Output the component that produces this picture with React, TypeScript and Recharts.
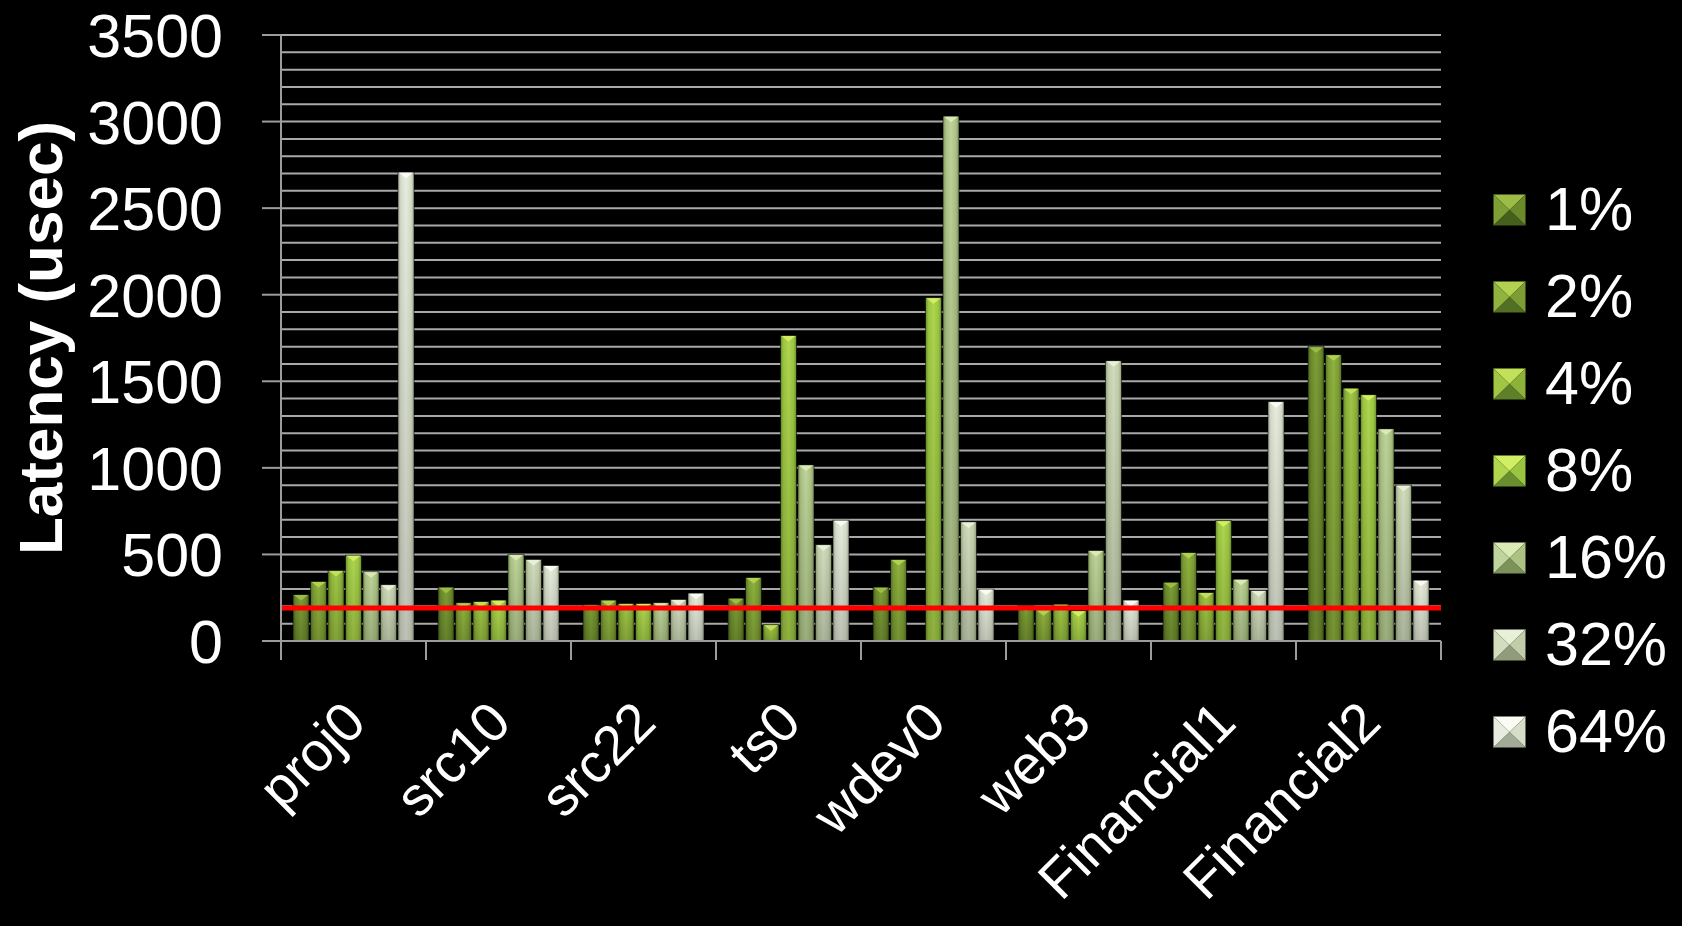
import { BarChart, Bar, XAxis, YAxis, CartesianGrid, ReferenceLine, Legend } from "recharts"

const categories = ["proj0", "src10", "src22", "ts0", "wdev0", "web3", "Financial1", "Financial2"]
const seriesNames = ["1%", "2%", "4%", "8%", "16%", "32%", "64%"]

// latency (usec) per trace, one array per cache size
const lat1 = [268, 311, 210, 247, 311, 205, 339, 1700]
const lat2 = [344, 221, 236, 367, 471, 181, 511, 1653]
const lat4 = [407, 228, 217, 94, 0, 212, 280, 1460]
const lat8 = [495, 236, 217, 1764, 1983, 174, 695, 1422]
const lat16 = [400, 499, 221, 1017, 3031, 523, 356, 1225]
const lat32 = [325, 471, 240, 556, 688, 1618, 292, 900]
const lat64 = [2708, 436, 276, 697, 299, 236, 1382, 351]

const yMajorTicks = [0, 500, 1000, 1500, 2000, 2500, 3000, 3500]
const gridStep = 100
const threshold = 190

const seriesValues = [lat1, lat2, lat4, lat8, lat16, lat32, lat64]
const data = categories.map((name, i) => {
  const row: Record<string, any> = { name }
  seriesNames.forEach((s, j) => {
    row[s] = seriesValues[j][i]
  })
  return row
})
const gridTicks = Array.from({ length: yMajorTicks[yMajorTicks.length - 1] / gridStep + 1 }, (_, i) => i * gridStep)

const font = "'Liberation Sans', Arial, Helvetica, sans-serif"
const axisColor = "#9c9c9c"
const gridColor = "#a9a9a9"

const edgeColors = ["#45601c", "#536f24", "#607f29", "#6a8e2d", "#7c9258", "#909c7c", "#a3ab96"]
const midColors = ["#6b8a2c", "#7c9d34", "#8cb23a", "#9ac542", "#abc283", "#c0cda8", "#d6ddc9"]
const hiColors = ["#7e9e36", "#90b23e", "#a1c646", "#afd64e", "#bfd49c", "#d2dcbf", "#e8ecdf"]
const capColors = ["#9cbc46", "#b2d150", "#c3e05a", "#d2ee62", "#dbe9b6", "#e9f0d8", "#fafcf4"]

function BevelBar(props: any) {
  const { x, y, width, height, s } = props
  if (!height || height <= 0) return <g />
  const cap = Math.min(6, height)
  return (
    <g>
      <rect x={x} y={y} width={width} height={height} fill={`url(#barGrad${s})`} />
      <rect x={x} y={y} width={width} height={height} fill="url(#barShade)" stroke="rgba(0,0,0,0.55)" strokeWidth={1} />
      <polygon points={`${x + 1},${y + 0.5} ${x + width - 1},${y + 0.5} ${x + width / 2},${y + cap}`} fill={capColors[s]} />
    </g>
  )
}

function YTick(props: any) {
  const { x, y, payload } = props
  if (payload.value % 500 !== 0) return <g />
  return (
    <g>
      <line x1={x - 19} x2={x} y1={y} y2={y} stroke={axisColor} strokeWidth={2} />
      <text x={x - 58} y={y} dy="0.36em" textAnchor="end" fill="#ffffff" fontSize={61} fontFamily={font}>
        {payload.value}
      </text>
    </g>
  )
}

function XTick(props: any) {
  const { x, y, payload, index, width, visibleTicksCount } = props
  const half = payload.offset ?? (width && visibleTicksCount ? width / visibleTicksCount / 2 : 72.5)
  const last = index === categories.length - 1
  const ax = x + 15
  const ay = y + 84
  return (
    <g>
      <line x1={x - half} x2={x - half} y1={y} y2={y + 19} stroke={axisColor} strokeWidth={2} />
      {last && <line x1={x + half} x2={x + half} y1={y} y2={y + 19} stroke={axisColor} strokeWidth={2} />}
      <text
        x={ax}
        y={ay}
        transform={`rotate(-45, ${ax}, ${ay})`}
        textAnchor="end"
        fill="#ffffff"
        fontSize={55}
        fontFamily={font}
      >
        {payload.value}
      </text>
    </g>
  )
}

function LegendSquare({ s }: { s: number }) {
  return (
    <svg width={33} height={32} style={{ display: "block" }}>
      <polygon points="0,0 33,0 16.5,16" fill={capColors[s]} />
      <polygon points="0,0 0,32 16.5,16" fill={hiColors[s]} />
      <polygon points="33,0 33,32 16.5,16" fill={midColors[s]} />
      <polygon points="0,32 33,32 16.5,16" fill={edgeColors[s]} />
      <rect x={0.5} y={0.5} width={32} height={31} fill="none" stroke="rgba(0,0,0,0.5)" />
    </svg>
  )
}

function renderLegend() {
  return (
    <div style={{ display: "flex", flexDirection: "column" }}>
      {seriesNames.map((n, i) => (
        <div key={n} style={{ height: 87, display: "flex", alignItems: "center" }}>
          <LegendSquare s={i} />
          <span style={{ marginLeft: 19, color: "#ffffff", fontSize: 61, fontFamily: font, lineHeight: 1 }}>{n}</span>
        </div>
      ))}
    </div>
  )
}

export default function App() {
  return (
    <div style={{ position: "fixed", left: 0, top: 0, width: 1682, height: 926, background: "#000000" }}>
      <svg width={0} height={0} style={{ position: "absolute" }}>
        <defs>
          {seriesNames.map((n, i) => (
            <linearGradient key={n} id={`barGrad${i}`} x1="0" y1="0" x2="1" y2="0">
              <stop offset="0%" stopColor={edgeColors[i]} />
              <stop offset="18%" stopColor={midColors[i]} />
              <stop offset="50%" stopColor={hiColors[i]} />
              <stop offset="82%" stopColor={midColors[i]} />
              <stop offset="100%" stopColor={edgeColors[i]} />
            </linearGradient>
          ))}
          <linearGradient id="barShade" x1="0" y1="0" x2="0" y2="1">
            <stop offset="0%" stopColor="#000000" stopOpacity={0} />
            <stop offset="100%" stopColor="#000000" stopOpacity={0.18} />
          </linearGradient>
        </defs>
      </svg>
      <BarChart
        width={1682}
        height={926}
        data={data}
        margin={{ top: 35, right: 241, left: 0, bottom: 0 }}
        barCategoryGap={12}
        barGap={1.5}
      >
        <CartesianGrid vertical={false} stroke={gridColor} strokeWidth={2} />
        <XAxis
          dataKey="name"
          height={285}
          interval={0}
          tickSize={0}
          tickMargin={0}
          tickLine={false}
          axisLine={{ stroke: axisColor, strokeWidth: 2 }}
          tick={<XTick />}
        />
        <YAxis
          width={281}
          domain={[0, 3500]}
          ticks={gridTicks}
          interval={0}
          tickSize={0}
          tickMargin={0}
          tickLine={false}
          axisLine={{ stroke: axisColor, strokeWidth: 2 }}
          tick={<YTick />}
          label={{
            content: (p: any) => {
              const vb = p.viewBox || { y: 35, height: 606 }
              const cy = vb.y + vb.height / 2
              return (
                <text
                  x={62}
                  y={cy}
                  transform={`rotate(-90, 62, ${cy})`}
                  textAnchor="middle"
                  fill="#ffffff"
                  fontSize={62}
                  fontWeight="bold"
                  fontFamily={font}
                >
                  Latency (usec)
                </text>
              )
            },
          }}
        />
        {seriesNames.map((n, i) => (
          <Bar key={n} dataKey={n} isAnimationActive={false} shape={(p: any) => <BevelBar {...p} s={i} />} />
        ))}
        <ReferenceLine y={threshold} stroke="#ff0000" strokeWidth={5} />
        <Legend
          layout="vertical"
          align="center"
          verticalAlign="middle"
          content={renderLegend}
          wrapperStyle={{ position: "absolute", left: 1493, top: 166, width: 189, height: 620 }}
        />
      </BarChart>
    </div>
  )
}
